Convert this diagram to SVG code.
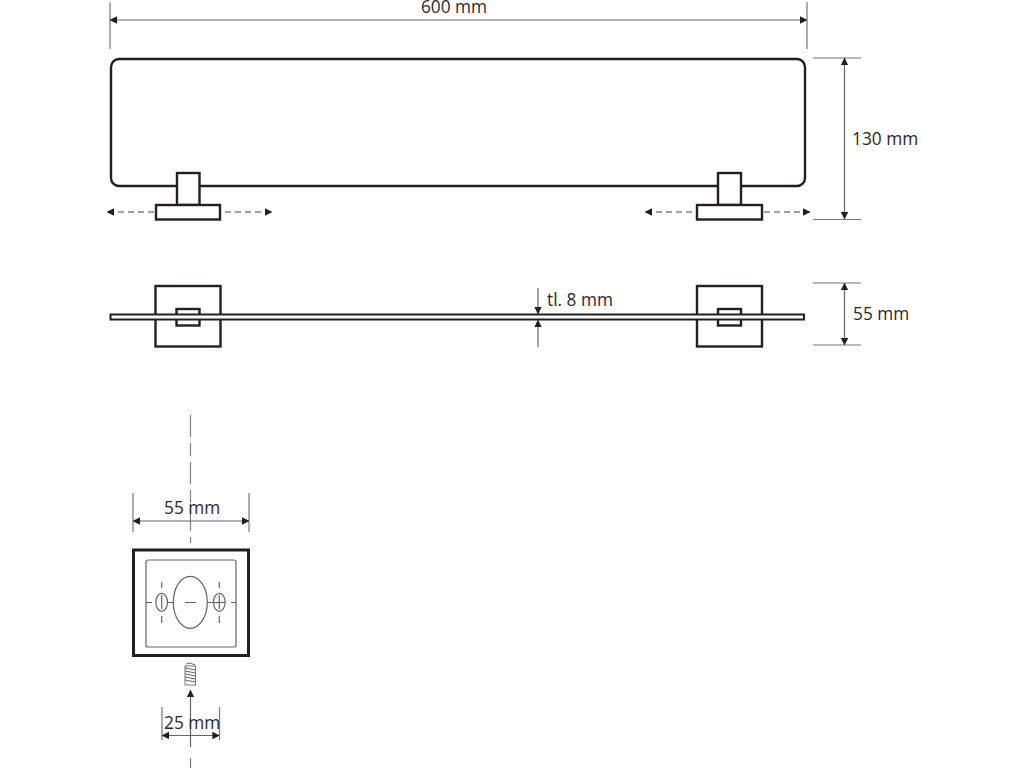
<svg xmlns="http://www.w3.org/2000/svg" width="1024" height="768" viewBox="0 0 1024 768">
<style>
.o{fill:#fff;stroke:#231f20;stroke-width:2.4}
.d{fill:none;stroke:#777;stroke-width:1.2}
.a{fill:none;stroke:#666;stroke-width:1.2;marker-start:url(#h);marker-end:url(#h)}
.e{fill:none;stroke:#666;stroke-width:1.2;marker-end:url(#h)}
.s{fill:none;stroke:#444;stroke-width:1;stroke-dasharray:6 4;marker-end:url(#h)}
.c{fill:none;stroke:#808080;stroke-width:1.2;stroke-dasharray:22 6 13 6}
.t{fill:none;stroke:#666;stroke-width:1.2}
.l{font-family:"Open Sans","Noto Sans",sans-serif;font-size:17.3px;fill:#2b2829}
</style>
<defs>
<marker id="h" viewBox="0 0 10 10" refX="9.5" refY="5" markerWidth="7.5" markerHeight="7.5" markerUnits="userSpaceOnUse" orient="auto-start-reverse"><path d="M0 0L10 5L0 10Z" fill="#231f20"/></marker>
</defs>
<g id="connectors">
<path class="d" d="M110 2V49M807 2V49M813 58H861M813 219.500H861M813 283H861M813 345H861M133 493V532M249 493V532M162 707V740M219.500 707V740"/>
<path class="a" d="M110 20H807"/>
<path class="a" d="M844.500 58V219"/>
<path class="a" d="M844.500 283V345"/>
<path class="a" d="M133 521H249"/>
<path class="a" d="M162 735.500H219.500"/>
<path class="e" d="M538 288V314"/>
<path class="e" d="M538 347V320"/>
<path class="e" d="M190.500 747V690"/>
<path class="s" d="M154 212H107"/>
<path class="s" d="M225 212H272"/>
<path class="s" d="M692 212H645"/>
<path class="s" d="M764 212H810"/>
<path class="c" d="M190.500 415V543"/>
<path class="d" d="M190.500 758V768"/>
</g>
<g id="shelf-front"><rect class="o" x="111" y="59" width="694" height="127" rx="8"/></g>
<g id="bracket-front-left"><rect class="o" x="177" y="173" width="22.500" height="32"/><rect class="o" x="156" y="205" width="64" height="14.500"/></g>
<g id="bracket-front-right"><rect class="o" x="718" y="173" width="23" height="32"/><rect class="o" x="697" y="205" width="65" height="14.500"/></g>
<g id="bracket-top-left"><rect class="o" x="155.500" y="286" width="65" height="60.500"/><rect class="o" x="176.500" y="309" width="23" height="16.500"/></g>
<g id="bracket-top-right"><rect class="o" x="697" y="286" width="65" height="60.500"/><rect class="o" x="718" y="309" width="23" height="16.500"/></g>
<g id="shelf-top"><rect x="110.500" y="314.500" width="693.500" height="5" fill="#fff" stroke="#231f20" stroke-width="2"/></g>
<g id="wall-plate">
<rect x="133.500" y="550" width="115" height="105.500" fill="#fff" stroke="#231f20" stroke-width="3"/>
<rect class="t" x="146" y="560" width="90" height="87" rx="2"/>
<ellipse class="t" cx="190.300" cy="602.300" rx="17" ry="26"/>
<ellipse class="t" cx="161.700" cy="602.300" rx="5.800" ry="9"/>
<ellipse class="t" cx="219.300" cy="602.300" rx="5.800" ry="9"/>
<path class="t" d="M146 602.500H152M167.500 602.500H173.500M185 602.500H196M207 602.500H225M231 602.500H236M161.700 582V588M161.700 595V609M161.700 616V623M219.300 582V588M219.300 595V609M219.300 616V623"/>
</g>
<g id="screw">
<rect x="185" y="666" width="10.500" height="19" fill="#fff" stroke="#777" stroke-width="1"/>
<path d="M186 664L190 663L195 665M185 668L195.500 670M185 671L195.500 673M185 674L195.500 676M185 677L195.500 679M185 680L195.500 682" fill="none" stroke="#666" stroke-width="1"/>
</g>
<g id="labels">
<text class="l" x="454" y="13" text-anchor="middle">600 mm</text>
<text class="l" x="852" y="145">130 mm</text>
<text class="l" x="853" y="320">55 mm</text>
<text class="l" x="547" y="306">tl. 8 mm</text>
<text class="l" x="164" y="514">55 mm</text>
<text class="l" x="164" y="729">25 mm</text>
</g>
</svg>
